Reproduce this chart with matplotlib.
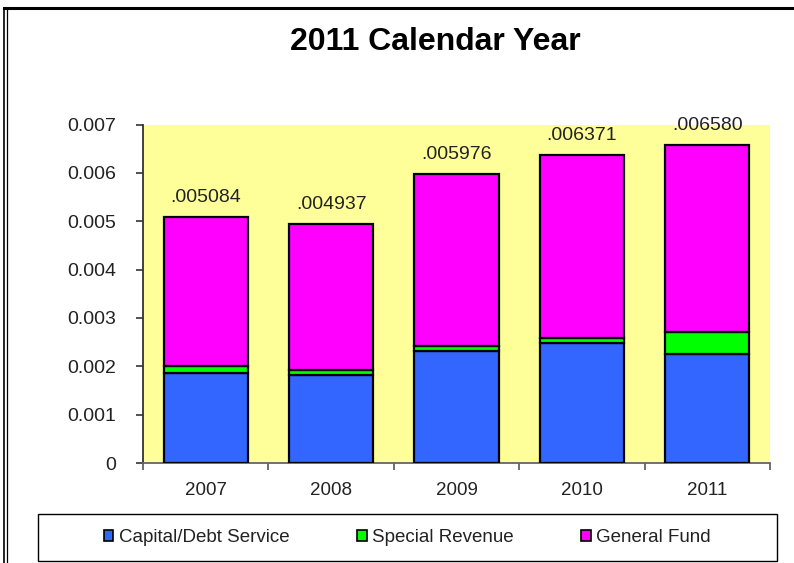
import matplotlib
matplotlib.use("Agg")
import matplotlib.pyplot as plt
from matplotlib.patches import Rectangle, Patch
from matplotlib.lines import Line2D
from matplotlib.ticker import FuncFormatter, FixedLocator
import numpy as np

plt.rcParams['font.family'] = ['Liberation Sans', 'DejaVu Sans']

years = ["2007", "2008", "2009", "2010", "2011"]
total_labels = [".005084", ".004937", ".005976", ".006371", ".006580"]
totals = [0.005084, 0.004937, 0.005976, 0.006371, 0.006580]
capital_debt = [0.00186, 0.00182, 0.00232, 0.00248, 0.00225]
special_revenue = [0.00014, 0.00010, 0.00010, 0.00010, 0.00046]
general_fund = [t - c - s for t, c, s in zip(totals, capital_debt, special_revenue)]
series_names = ["Capital/Debt Service", "Special Revenue", "General Fund"]
series_colors = ["#3366FF", "#00FF00", "#FF00FF"]

W, H = 794, 563
fig = plt.figure(figsize=(W / 100, H / 100), dpi=100)
fig.patch.set_facecolor("white")

ax = fig.add_axes([143 / W, 1 - 463 / H, (770 - 143) / W, (463 - 124.5) / H])
ax.set_facecolor("#FFFF99")

x = np.arange(len(years))
bottom = np.zeros(len(years))
for vals, col in zip([capital_debt, special_revenue, general_fund], series_colors):
    ax.bar(x, vals, width=0.67, bottom=bottom, color=col,
           edgecolor="black", linewidth=1.6, zorder=3)
    bottom = bottom + np.array(vals)

for xi, t, lab in zip(x, totals, total_labels):
    ax.annotate(lab, (xi, t), xytext=(0, 8), textcoords="offset points",
                ha="center", va="bottom", fontsize=14, color="#222222")

ax.set_xlim(-0.5, len(years) - 0.5)
ax.set_ylim(0, 0.007)
ax.set_yticks(np.arange(0, 0.0071, 0.001))
ax.yaxis.set_major_formatter(FuncFormatter(lambda v, p: "0" if abs(v) < 1e-12 else f"{v:.3f}"))
ax.tick_params(axis="y", direction="out", length=5, width=1.2, pad=14,
               labelsize=14, colors="#333333", labelcolor="#222222")

ax.set_xticks(x)
ax.set_xticklabels(years)
ax.tick_params(axis="x", which="major", length=0, pad=14, labelsize=13.5, labelcolor="#222222")
ax.xaxis.set_minor_locator(FixedLocator(np.arange(-0.5, len(years), 1.0)))
ax.tick_params(axis="x", which="minor", direction="out", length=5, width=1.2, colors="#555555")

for side in ["top", "right"]:
    ax.spines[side].set_visible(False)
ax.spines["left"].set_color("#333333")
ax.spines["left"].set_linewidth(1.3)
ax.spines["bottom"].set_color("#666666")
ax.spines["bottom"].set_linewidth(1.3)

fig.text(435.5 / W, 1 - 42 / H, "2011 Calendar Year", ha="center", va="center",
         fontsize=23, fontweight="bold", color="black")

# legend box
fig.patches.append(Rectangle((38 / W, 1 - 561 / H), (777 - 38) / W, (561 - 514) / H,
                             transform=fig.transFigure, facecolor="white",
                             edgecolor="black", linewidth=1.0, zorder=1))
handles = [Patch(facecolor=c, edgecolor="black", linewidth=1.2) for c in series_colors]
fig.legend(handles, series_names, loc="center", bbox_to_anchor=(407.5 / W, 1 - 537.5 / H),
           ncol=3, frameon=False, fontsize=13.5, handlelength=0.5, handleheight=0.5,
           handletextpad=0.3, columnspacing=3.6, labelcolor="#222222")

# outer frame lines
fig.add_artist(Line2D([3.5 / W, 1], [1 - 7.5 / H, 1 - 7.5 / H], transform=fig.transFigure,
                      color="black", linewidth=2.2))
fig.add_artist(Line2D([4 / W, 4 / W], [0, 1 - 7.5 / H], transform=fig.transFigure,
                      color="black", linewidth=1.2))
fig.add_artist(Line2D([6.8 / W, 6.8 / W], [0, 1 - 9.5 / H], transform=fig.transFigure,
                      color="black", linewidth=0.9))

fig.savefig("out.png", dpi=100)
